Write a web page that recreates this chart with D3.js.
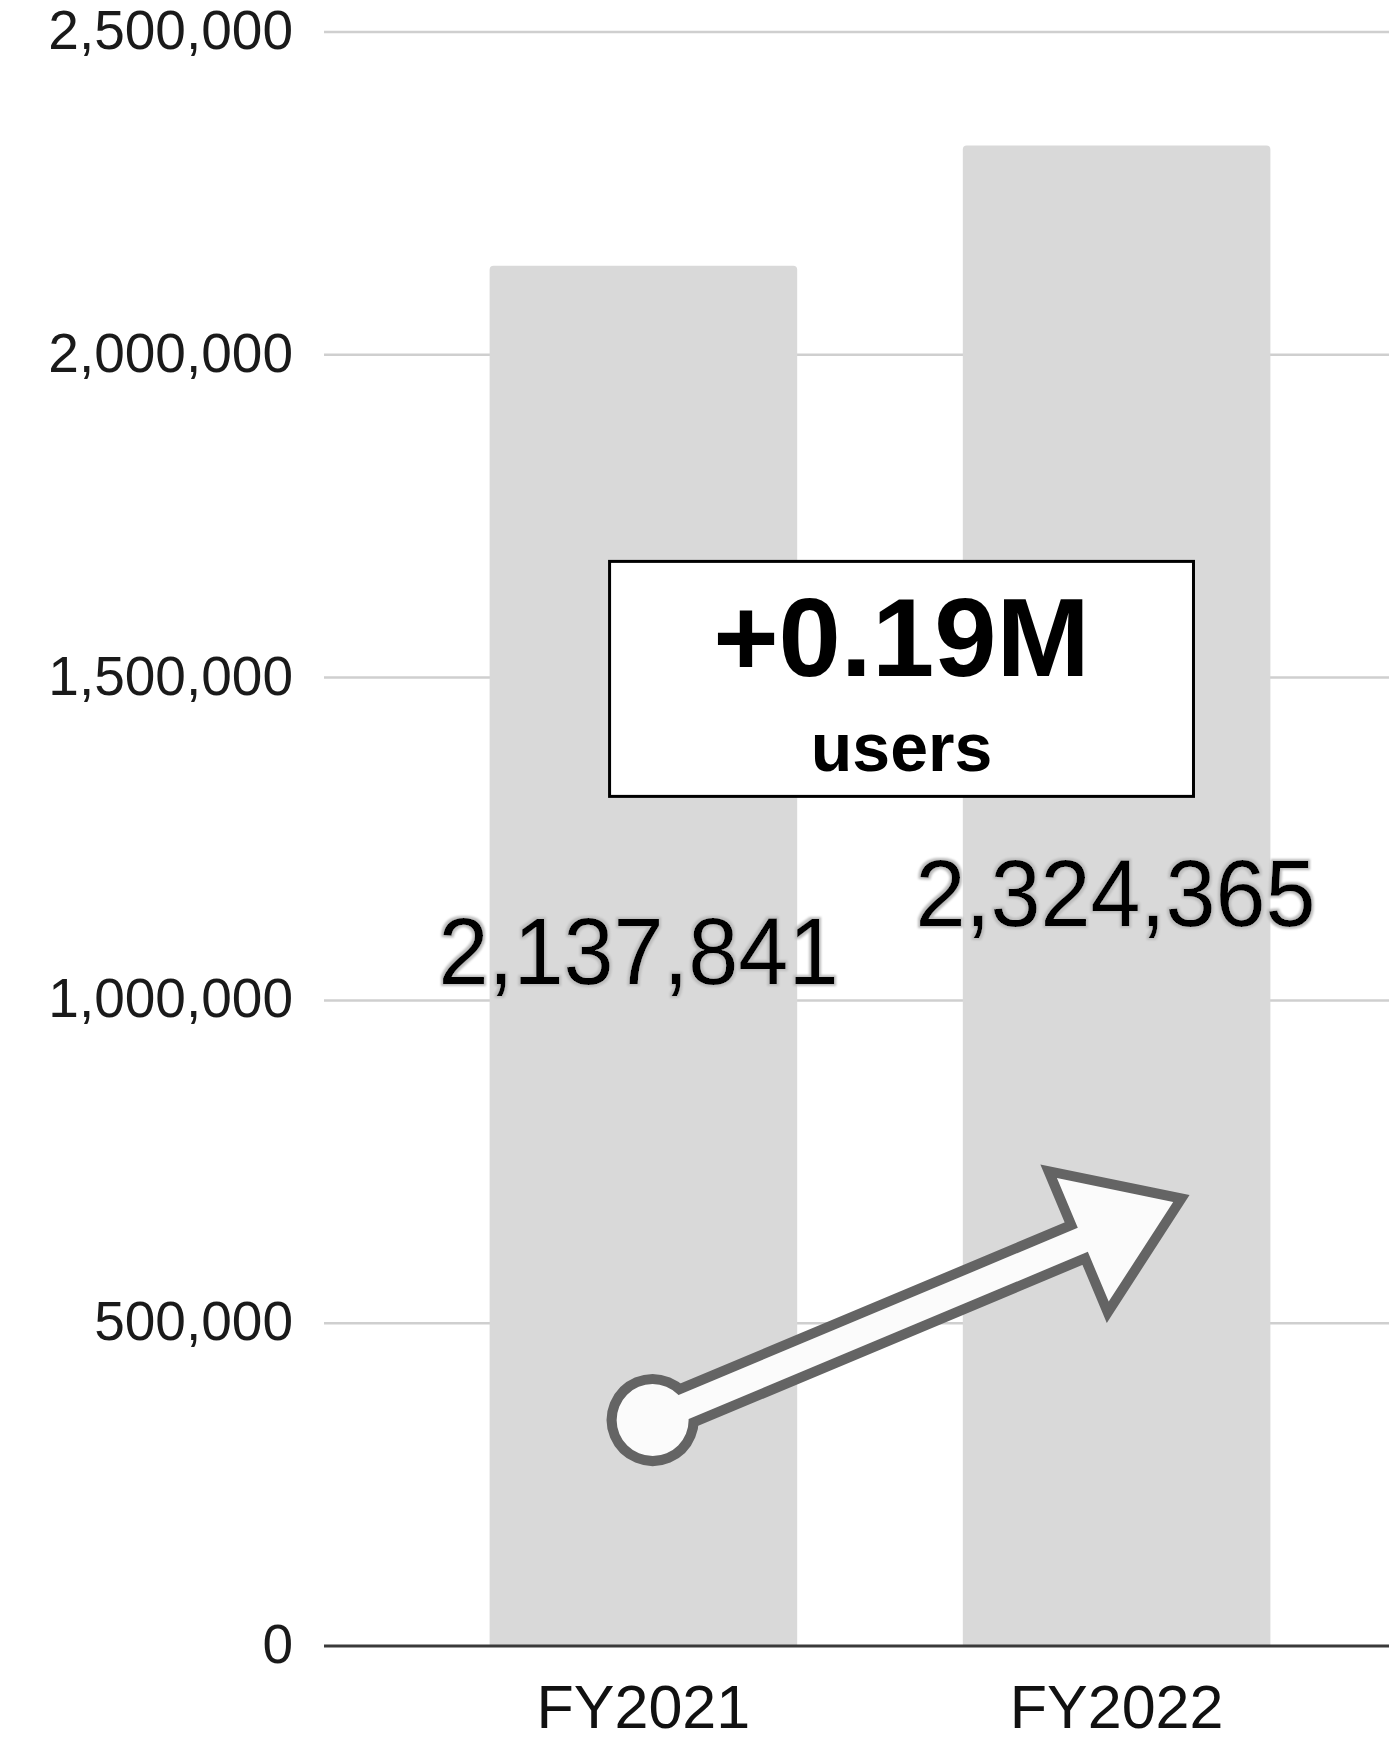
<!DOCTYPE html>
<html>
<head>
<meta charset="utf-8">
<script src="https://cdn.jsdelivr.net/npm/d3@7"></script>
<style>
  html, body { margin: 0; padding: 0; background: #fff; }
  svg { display: block; font-family: "Liberation Sans", Arial, Helvetica, sans-serif; }
</style>
</head>
<body>
<svg id="chart" width="1389" height="1743"></svg>
<script>
// Fiscal years and user counts
const categories = ["FY2021", "FY2022"];
const users = [2137841, 2324365];
const yTicks = [0, 500000, 1000000, 1500000, 2000000, 2500000];

// Growth arrow anchors (category, position across the band, value)
const arrowTail = { category: "FY2021", along: 0.53, value: 350000 };
const arrowTip = { category: "FY2022", along: 0.735, value: 698000 };

// Callout box extent in chart units
const calloutBox = { left: ["FY2021", 0.39], right: ["FY2022", 0.75], top: 1680000, bottom: 1316000 };

(function () {
const svg = d3.select("#chart");
const plotLeft = 324, plotRight = 1436, plotTop = 32, plotBottom = 1646;

const x = d3.scaleBand().domain(categories).range([plotLeft, plotRight]).paddingInner(0.35).paddingOuter(0.35);
const y = d3.scaleLinear().domain([0, 2500000]).range([plotBottom, plotTop]);
const fmt = d3.format(",");

// defs: soft halo behind value labels
const defs = svg.append("defs");
const halo = defs.append("filter").attr("id", "halo").attr("x", "-10%").attr("y", "-20%").attr("width", "120%").attr("height", "140%");
halo.append("feMorphology").attr("in", "SourceAlpha").attr("operator", "dilate").attr("radius", 2).attr("result", "d");
halo.append("feGaussianBlur").attr("in", "d").attr("stdDeviation", 1.2).attr("result", "b");
halo.append("feFlood").attr("flood-color", "#bdbdbd").attr("result", "c");
halo.append("feComposite").attr("in", "c").attr("in2", "b").attr("operator", "in").attr("result", "g");
const m = halo.append("feMerge");
m.append("feMergeNode").attr("in", "g");
m.append("feMergeNode").attr("in", "SourceGraphic");

// gridlines
svg.append("g").selectAll("line").data(yTicks.filter(d => d > 0)).join("line")
  .attr("x1", plotLeft).attr("x2", plotRight)
  .attr("y1", d => y(d)).attr("y2", d => y(d))
  .attr("stroke", "#cfcfcf").attr("stroke-width", 2.5);

// y tick labels
svg.append("g").selectAll("text").data(yTicks).join("text")
  .attr("x", 293).attr("y", d => y(d) + 17)
  .attr("text-anchor", "end")
  .attr("font-size", 55)
  .attr("fill", "#1a1a1a")
  .text(d => fmt(d));

// bars
svg.append("g").selectAll("path").data(categories).join("path")
  .attr("fill", "#d9d9d9")
  .attr("d", (c, i) => {
    const x0 = x(c), w = x.bandwidth(), y0 = y(users[i]), r = 4;
    return `M${x0},${plotBottom}V${y0 + r}Q${x0},${y0} ${x0 + r},${y0}H${x0 + w - r}Q${x0 + w},${y0} ${x0 + w},${y0 + r}V${plotBottom}Z`;
  });

// baseline axis
svg.append("line")
  .attr("x1", plotLeft).attr("x2", plotRight).attr("y1", y(0)).attr("y2", y(0))
  .attr("stroke", "#3a3a3a").attr("stroke-width", 3.2);

// x labels
svg.append("g").selectAll("text").data(categories).join("text")
  .attr("x", c => x(c) + x.bandwidth() / 2)
  .attr("y", 1728)
  .attr("text-anchor", "middle")
  .attr("font-size", 61)
  .attr("fill", "#111")
  .text(c => c);

// value labels
svg.append("g").selectAll("text").data(categories).join("text")
  .attr("x", (c, i) => x(c) + x.bandwidth() / 2 + (i === 0 ? -5 : -1))
  .attr("y", (c, i) => y(users[i] * 0.48))
  .attr("text-anchor", "middle")
  .attr("font-size", 95)
  .attr("textLength", 400)
  .attr("lengthAdjust", "spacingAndGlyphs")
  .attr("fill", "#000")
  .attr("filter", "url(#halo)")
  .text((c, i) => fmt(users[i]));

// growth arrow: outlined union of a round tail and a block arrow
const ax = a => x(a.category) + x.bandwidth() * a.along;
const tx0 = ax(arrowTail), ty0 = y(arrowTail.value);
const tx1 = ax(arrowTip), ty1 = y(arrowTip.value);
const L = Math.hypot(tx1 - tx0, ty1 - ty0);
const ang = Math.atan2(ty1 - ty0, tx1 - tx0) * 180 / Math.PI;
const tipX = L - 17, headLen = 98, headHalf = 67, shaftHalf = 13, tailR = 36;
const shape = [[0, -shaftHalf], [tipX - headLen, -shaftHalf], [tipX - headLen, -headHalf], [tipX, 0],
  [tipX - headLen, headHalf], [tipX - headLen, shaftHalf], [0, shaftHalf]];
const arrowG = svg.append("g").attr("transform", `translate(${tx0},${ty0}) rotate(${ang})`);
[true, false].forEach(outline => {
  const g = arrowG.append("g");
  g.append("circle").attr("r", tailR)
    .attr("fill", "#fbfbfb")
    .attr("stroke", outline ? "#646464" : "none").attr("stroke-width", 20);
  g.append("polygon").attr("points", shape.map(p => p.join(",")).join(" "))
    .attr("fill", "#fbfbfb")
    .attr("stroke", outline ? "#646464" : "none").attr("stroke-width", 20)
    .attr("stroke-linejoin", "miter").attr("stroke-miterlimit", 6);
});

// callout box
const bx0 = x(calloutBox.left[0]) + x.bandwidth() * calloutBox.left[1];
const bx1 = x(calloutBox.right[0]) + x.bandwidth() * calloutBox.right[1];
const by0 = y(calloutBox.top), by1 = y(calloutBox.bottom);
svg.append("rect")
  .attr("x", bx0).attr("y", by0).attr("width", bx1 - bx0).attr("height", by1 - by0)
  .attr("fill", "#fff").attr("stroke", "#000").attr("stroke-width", 3);
const delta = (users[1] - users[0]) / 1e6;
svg.append("text")
  .attr("x", (bx0 + bx1) / 2).attr("y", by0 + 115)
  .attr("text-anchor", "middle").attr("font-size", 112).attr("font-weight", "bold")
  .attr("fill", "#000")
  .text("+" + d3.format(".2f")(delta) + "M");
svg.append("text")
  .attr("x", (bx0 + bx1) / 2).attr("y", by0 + 210)
  .attr("text-anchor", "middle").attr("font-size", 68).attr("font-weight", "bold")
  .attr("fill", "#000")
  .text("users");
})();
</script>
</body>
</html>
